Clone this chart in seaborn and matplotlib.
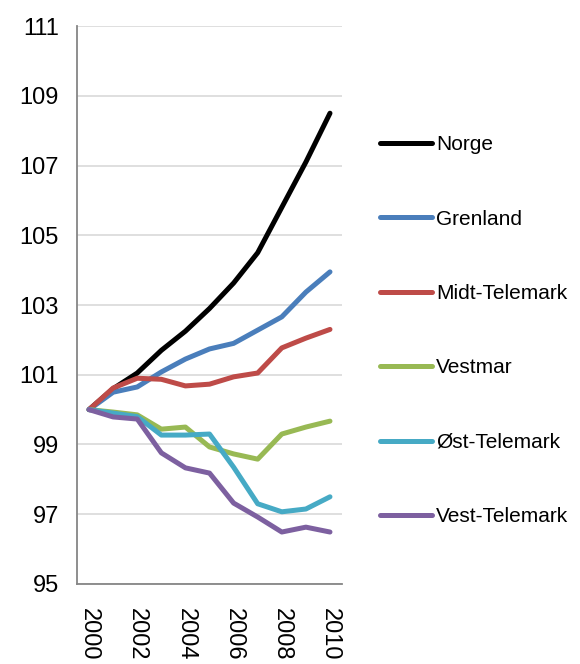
import pandas as pd
import matplotlib
matplotlib.use("Agg")
import matplotlib.pyplot as plt
import seaborn as sns
import numpy as np

# ─────────────────────────────────────────────
# Data (index, 2000 = 100)
# ─────────────────────────────────────────────
years = list(range(2000, 2011))

norge = [100, 100.6, 101.05, 101.7, 102.25, 102.9, 103.63, 104.5, 105.8, 107.1, 108.5]
grenland = [100, 100.5, 100.65, 101.08, 101.45, 101.74, 101.9, 102.28, 102.66, 103.37, 103.95]
midt_telemark = [100, 100.62, 100.9, 100.87, 100.68, 100.73, 100.94, 101.05, 101.77, 102.05, 102.3]
vestmar = [100, 99.93, 99.85, 99.44, 99.5, 98.93, 98.73, 98.58, 99.3, 99.5, 99.67]
ost_telemark = [100, 99.9, 99.8, 99.27, 99.27, 99.3, 98.35, 97.3, 97.07, 97.15, 97.5]
vest_telemark = [100, 99.79, 99.73, 98.76, 98.33, 98.18, 97.32, 96.92, 96.49, 96.63, 96.49]

regions = ["Norge", "Grenland", "Midt-Telemark", "Vestmar", "Øst-Telemark", "Vest-Telemark"]
series = [norge, grenland, midt_telemark, vestmar, ost_telemark, vest_telemark]
colors = ["#000000", "#4A7EBB", "#BE4B48", "#98B954", "#46AAC5", "#7D60A0"]

df = pd.DataFrame(
    [(r, y, v) for r, vals in zip(regions, series) for y, v in zip(years, vals)],
    columns=["Region", "Year", "Index"],
)

# ─────────────────────────────────────────────
# Plot
# ─────────────────────────────────────────────
sns.set_style("white")
plt.rcParams["font.family"] = ["Liberation Sans", "DejaVu Sans"]
plt.rcParams["text.color"] = "black"
plt.rcParams["xtick.labelcolor"] = "black"
plt.rcParams["ytick.labelcolor"] = "black"

fig = plt.figure(figsize=(5.8, 6.64), dpi=100)
ax = fig.add_axes([0.1328, 0.1205, 0.4569, 0.8403])

sns.lineplot(data=df, x="Year", y="Index", hue="Region", hue_order=regions,
             palette=colors, linewidth=3.6, ax=ax, legend=False)
for line in ax.lines:
    line.set_solid_capstyle("round")
    line.set_solid_joinstyle("round")

ax.set_xlim(1999.5, 2010.5)
ax.set_ylim(95, 111)
ax.set_yticks(np.arange(95, 112, 2))
ax.yaxis.grid(True, color="#D9D9D9", linewidth=1.2)
ax.set_axisbelow(True)

ax.set_xticks(years[::2])
ax.set_xticklabels([str(y) for y in years[::2]], rotation=-90, va="top")
ax.set_xticks(np.arange(1999.5, 2011, 1), minor=True)
ax.tick_params(axis="x", which="major", length=0, pad=17, labelsize=17)
ax.tick_params(axis="x", which="minor", length=7, width=1.2, color="#868686", direction="out")
ax.tick_params(axis="y", length=7, width=1.2, color="#868686", direction="out", labelsize=17, pad=6)

for side in ["top", "right"]:
    ax.spines[side].set_visible(False)
for side in ["left", "bottom"]:
    ax.spines[side].set_color("#868686")
    ax.spines[side].set_linewidth(1.3)

ax.set_xlabel("")
ax.set_ylabel("")

handles = [plt.Line2D([], [], color=c, linewidth=3.6, solid_capstyle="round") for c in colors]
fig.legend(handles, regions, loc="center left", bbox_to_anchor=(0.655, 0.502),
           frameon=False, fontsize=15, handlelength=2.5, handletextpad=0.2,
           labelspacing=2.66, borderpad=0, borderaxespad=0)

plt.savefig("out.png", dpi=100)
plt.close()
